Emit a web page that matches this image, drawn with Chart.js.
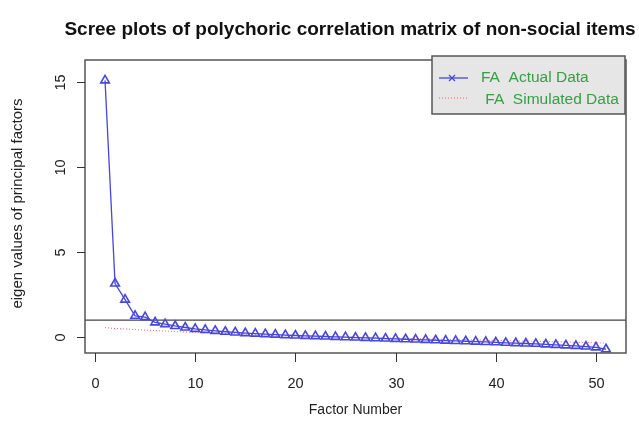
<!DOCTYPE html>
<html>
<head>
<meta charset="utf-8">
<script src="https://cdn.jsdelivr.net/npm/chart.js@4.4.1/dist/chart.umd.min.js"></script>
<style>
  html, body { margin: 0; padding: 0; background: #fff; }
  #wrap { width: 639px; height: 429px; }
</style>
</head>
<body>
<div id="wrap"><canvas id="myChart" width="639" height="429"></canvas></div>
<script>
// factor numbers 1..51
var factors = [];
for (var f = 1; f <= 51; f++) factors.push(f);

// eigen values
var actualData = [15.1, 3.15, 2.2, 1.25, 1.17, 0.86, 0.76, 0.65, 0.56, 0.48,
    0.42, 0.36, 0.31, 0.27, 0.23, 0.2, 0.17, 0.14, 0.11, 0.09,
    0.07, 0.05, 0.03, 0.01, -0.01, -0.03, -0.05, -0.07, -0.09, -0.11,
    -0.13, -0.15, -0.17, -0.19, -0.21, -0.23, -0.25, -0.27, -0.29, -0.31,
    -0.34, -0.36, -0.38, -0.4, -0.43, -0.46, -0.49, -0.52, -0.56, -0.61, -0.72];
var simulatedData = [0.55, 0.5, 0.47, 0.44, 0.41, 0.38, 0.35, 0.32, 0.29, 0.27,
    0.25, 0.23, 0.21, 0.19, 0.17, 0.15, 0.13, 0.11, 0.1, 0.08,
    0.06, 0.05, 0.03, 0.02, 0.0, -0.01, -0.03, -0.04, -0.05, -0.07,
    -0.08, -0.09, -0.11, -0.12, -0.13, -0.15, -0.16, -0.17, -0.19, -0.2,
    -0.21, -0.23, -0.24, -0.25, -0.27, -0.28, -0.29, -0.31, -0.32, -0.34, -0.36];

var xTicks = [0, 10, 20, 30, 40, 50];
var yTicks = [0, 5, 10, 15];
var refLine = 1;

var titleText = "Scree plots of polychoric correlation matrix of non-social items";
var xTitle = "Factor Number";
var yTitle = "eigen values of principal factors";
var legendLabels = ["FA  Actual Data", " FA  Simulated Data"];

function toPoints(ys) {
    return ys.map(function(y, i) { return { x: factors[i], y: y }; });
}

var blue = "rgb(70, 70, 225)";
var red = "rgb(255, 90, 90)";

// R-like frame, axes, titles and legend
var rDecor = {
    id: "rDecor",
    beforeDatasetsDraw: function(chart) {
        var ctx = chart.ctx, a = chart.chartArea;
        var ys = chart.scales.y;
        var y1 = ys.getPixelForValue(refLine);
        ctx.save();
        ctx.strokeStyle = "#444";
        ctx.lineWidth = 1.3;
        ctx.beginPath();
        ctx.moveTo(a.left, y1);
        ctx.lineTo(a.right, y1);
        ctx.stroke();
        ctx.restore();
    },
    afterDraw: function(chart) {
        var ctx = chart.ctx, a = chart.chartArea;
        var xs = chart.scales.x, ys = chart.scales.y;
        ctx.save();
        // box
        ctx.strokeStyle = "#555";
        ctx.lineWidth = 1.5;
        ctx.strokeRect(a.left, a.top, a.right - a.left, a.bottom - a.top);

        // x ticks
        ctx.strokeStyle = "#333";
        ctx.lineWidth = 1;
        ctx.fillStyle = "#222";
        ctx.font = "14.5px 'Liberation Sans', Arial, sans-serif";
        ctx.textAlign = "center";
        ctx.textBaseline = "middle";
        xTicks.forEach(function(t) {
            var px = Math.round(xs.getPixelForValue(t)) + 0.5;
            ctx.beginPath();
            ctx.moveTo(px, a.bottom);
            ctx.lineTo(px, a.bottom + 9);
            ctx.stroke();
            ctx.fillText(String(t), px, a.bottom + 31);
        });

        // y ticks (labels rotated like R)
        yTicks.forEach(function(t) {
            var py = Math.round(ys.getPixelForValue(t)) + 0.5;
            ctx.beginPath();
            ctx.moveTo(a.left, py);
            ctx.lineTo(a.left - 8, py);
            ctx.stroke();
            ctx.save();
            ctx.translate(a.left - 24, py);
            ctx.rotate(-Math.PI / 2);
            ctx.fillText(String(t), 0, 0);
            ctx.restore();
        });

        // axis titles
        ctx.font = "14px 'Liberation Sans', Arial, sans-serif";
        ctx.fillText(xTitle, (a.left + a.right) / 2, 410);
        ctx.save();
        ctx.font = "15px 'Liberation Sans', Arial, sans-serif";
        ctx.translate(18, (a.top + a.bottom) / 2 - 3);
        ctx.rotate(-Math.PI / 2);
        ctx.fillText(yTitle, 0, 0);
        ctx.restore();

        // main title
        ctx.fillStyle = "#111";
        ctx.font = "bold 19px 'Liberation Sans', Arial, sans-serif";
        ctx.fillText(titleText, 350, 30);

        // legend
        var lx = 432, ly = 56, lw = 193, lh = 58;
        ctx.fillStyle = "#e6e6e6";
        ctx.fillRect(lx, ly, lw, lh);
        ctx.strokeStyle = "#555";
        ctx.lineWidth = 1.5;
        ctx.strokeRect(lx, ly, lw, lh);

        ctx.strokeStyle = blue;
        ctx.lineWidth = 1.3;
        ctx.beginPath();
        ctx.moveTo(439, 78); ctx.lineTo(468, 78);
        ctx.stroke();
        ctx.beginPath();
        ctx.moveTo(449, 75); ctx.lineTo(455, 81);
        ctx.moveTo(455, 75); ctx.lineTo(449, 81);
        ctx.stroke();

        ctx.strokeStyle = red;
        ctx.lineWidth = 1;
        ctx.setLineDash([1, 2]);
        ctx.beginPath();
        ctx.moveTo(439, 98); ctx.lineTo(468, 98);
        ctx.stroke();
        ctx.setLineDash([]);

        ctx.fillStyle = "#35a043";
        ctx.font = "15.5px 'Liberation Sans', Arial, sans-serif";
        ctx.textAlign = "left";
        ctx.fillText(legendLabels[0], 481, 78);
        ctx.fillText(legendLabels[1], 481, 100);
        ctx.restore();
    }
};

const ctx = document.getElementById("myChart").getContext("2d");
var chart = new Chart(ctx, {
    type: "scatter",
    data: {
        datasets: [
            {
                label: legendLabels[0],
                data: toPoints(actualData),
                showLine: true,
                borderColor: blue,
                borderWidth: 1.3,
                pointStyle: "triangle",
                pointRadius: 5,
                pointBorderWidth: 1.6,
                pointBorderColor: blue,
                pointBackgroundColor: "rgba(255,255,255,0)",
                tension: 0
            },
            {
                label: legendLabels[1],
                data: toPoints(simulatedData),
                showLine: true,
                borderColor: red,
                borderWidth: 1,
                borderDash: [1, 2],
                pointRadius: 0,
                tension: 0
            }
        ]
    },
    options: {
        responsive: false,
        animation: false,
        layout: { padding: { left: 85, right: 13, top: 60, bottom: 76 } },
        plugins: {
            legend: { display: false },
            tooltip: { enabled: false },
            title: { display: false }
        },
        scales: {
            x: { type: "linear", min: -1, max: 53, display: false },
            y: { type: "linear", min: -0.94, max: 16.3, display: false }
        }
    },
    plugins: [rDecor]
});
</script>
</body>
</html>
